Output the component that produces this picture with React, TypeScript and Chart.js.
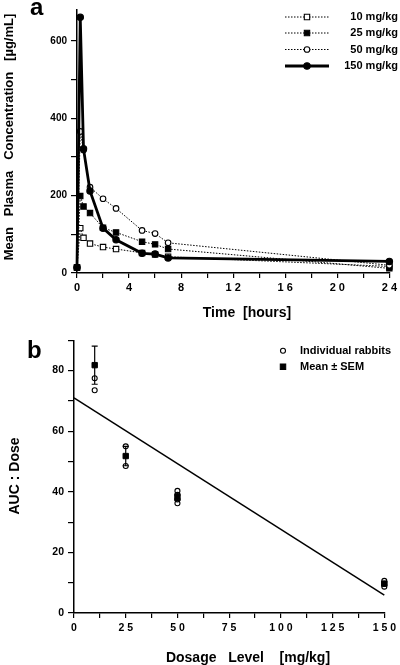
import { useEffect, useRef } from "react";
import { Chart, registerables } from "chart.js";

Chart.register(...registerables);

// ---------- Panel a data ----------
const timeHours = [0, 0.25, 0.5, 1, 2, 3, 5, 6, 7, 24];
const conc10 = [14, 116, 91, 76, 67, 62, 52, 48, 42, 17];
const conc25 = [14, 199, 172, 155, 117, 105, 81, 74, 62, 12];
const conc50 = [14, 366, 318, 222, 192, 167, 110, 102, 78, 20];
const conc150 = [14, 661, 321, 212, 116, 86, 51, 49, 39, 30];
const doseLabelsA = ["10 mg/kg", "25 mg/kg", "50 mg/kg", "150 mg/kg"];
const timeTickValues = [0, 4, 8, 12, 16, 20, 24];
const timeTickLabels = ["0", "4", "8", "1 2", "1 6", "2 0", "2 4"];
const concTickValues = [0, 200, 400, 600];
const concTickLabels = ["0", "200", "400", "600"];

// ---------- Panel b data ----------
const doseIndividual = [10, 10, 25, 25, 50, 50, 50, 50, 150, 150, 150];
const aucIndividual = [77.5, 73.5, 55, 48.5, 40.3, 39, 37.5, 36.2, 10.6, 9.6, 8.7];
const doseMean = [10, 25, 50, 150];
const aucMean = [81.8, 51.8, 38.2, 9.7];
const aucSem = [6.3, 3.2, 1.0, 0.5];
const fitDose = [0, 150];
const fitAuc = [71, 5.9];
const doseTickValues = [0, 25, 50, 75, 100, 125, 150];
const doseTickLabels = ["0", "2 5", "5 0", "7 5", "1 0 0", "1 2 5", "1 5 0"];
const aucTickValues = [0, 20, 40, 60, 80];
const aucTickLabels = ["0", "20", "40", "60", "80"];
const legendLabelsB = ["Individual rabbits", "Mean \u00b1 SEM"];

const FAMILY = "'Liberation Sans', Arial, Helvetica, sans-serif";
const font = (size: number) => `bold ${size}px ${FAMILY}`;

const dotted = [1.5, 1.5];

const seriesStyles = [
  { style: "rect", fill: "#fff", radius: 3.8, width: 1, dash: dotted },
  { style: "rect", fill: "#000", radius: 3.8, width: 1, dash: dotted },
  { style: "circle", fill: "#fff", radius: 2.8, width: 1, dash: dotted },
  { style: "circle", fill: "#000", radius: 3.2, width: 2.8, dash: [] as number[] },
];

const axisCommon = (tickLength: number) => ({
  grid: {
    drawOnChartArea: false,
    drawTicks: true,
    tickLength,
    color: "#000",
    lineWidth: 1.2,
  },
  border: { color: "#000", width: 1.5 },
});

function drawMarker(ctx: CanvasRenderingContext2D, style: string, x: number, y: number, r: number, fill: string) {
  ctx.save();
  ctx.setLineDash([]);
  ctx.lineWidth = 1.1;
  ctx.strokeStyle = "#000";
  ctx.fillStyle = fill;
  ctx.beginPath();
  if (style === "rect") {
    const s = r * Math.SQRT1_2;
    ctx.rect(x - s, y - s, 2 * s, 2 * s);
  } else {
    ctx.arc(x, y, r, 0, Math.PI * 2);
  }
  ctx.fill();
  ctx.stroke();
  ctx.restore();
}

const panelAPlugin = {
  id: "panelA",
  afterDraw(chart: any) {
    const ctx: CanvasRenderingContext2D = chart.ctx;
    ctx.save();
    ctx.fillStyle = "#000";
    ctx.textAlign = "left";
    ctx.textBaseline = "alphabetic";
    ctx.font = font(24);
    ctx.fillText("a", 30, 15);

    ctx.font = font(14);
    ctx.textAlign = "center";
    ctx.fillText("Time  [hours]", 247, 317);

    ctx.save();
    ctx.translate(12.5, 137);
    ctx.rotate(-Math.PI / 2);
    ctx.font = font(13);
    ctx.textAlign = "center";
    ctx.fillText("Mean   Plasma   Concentration   [\u00b5g/mL]", 0, 0);
    ctx.restore();

    // legend
    const rows = [17, 33, 49.5, 66];
    doseLabelsA.forEach((label, i) => {
      const st = seriesStyles[i];
      const y = rows[i];
      ctx.save();
      ctx.strokeStyle = "#000";
      ctx.lineWidth = st.width;
      ctx.setLineDash(st.dash);
      ctx.beginPath();
      ctx.moveTo(285, y);
      ctx.lineTo(329, y);
      ctx.stroke();
      ctx.restore();
      drawMarker(ctx, st.style, 307, y, st.radius, st.fill);
      ctx.font = font(11);
      ctx.textAlign = "right";
      ctx.textBaseline = "middle";
      ctx.fillStyle = "#000";
      ctx.fillText(label, 398, y);
    });
    ctx.restore();
  },
};

const errorBarPlugin = {
  id: "panelB",
  afterDatasetsDraw(chart: any) {
    const ctx: CanvasRenderingContext2D = chart.ctx;
    const xs = chart.scales.x;
    const ys = chart.scales.y;
    ctx.save();
    ctx.strokeStyle = "#000";
    ctx.lineWidth = 1.2;
    doseMean.forEach((d, i) => {
      const x = xs.getPixelForValue(d);
      const yTop = ys.getPixelForValue(aucMean[i] + aucSem[i]);
      const yBot = ys.getPixelForValue(aucMean[i] - aucSem[i]);
      ctx.beginPath();
      ctx.moveTo(x, yTop);
      ctx.lineTo(x, yBot);
      ctx.moveTo(x - 3, yTop);
      ctx.lineTo(x + 3, yTop);
      ctx.moveTo(x - 3, yBot);
      ctx.lineTo(x + 3, yBot);
      ctx.stroke();
    });
    ctx.restore();
  },
  afterDraw(chart: any) {
    const ctx: CanvasRenderingContext2D = chart.ctx;
    ctx.save();
    ctx.fillStyle = "#000";
    ctx.textAlign = "left";
    ctx.textBaseline = "alphabetic";
    ctx.font = font(24);
    ctx.fillText("b", 27, 28);

    ctx.font = font(14);
    ctx.textAlign = "center";
    ctx.fillText("Dosage   Level    [mg/kg]", 248, 331.5);

    ctx.save();
    ctx.translate(19, 146);
    ctx.rotate(-Math.PI / 2);
    ctx.font = font(14);
    ctx.textAlign = "center";
    ctx.fillText("AUC : Dose", 0, 0);
    ctx.restore();

    // legend
    drawMarker(ctx, "circle", 283, 20.7, 2.5, "#fff");
    drawMarker(ctx, "rect", 283, 36.7, 3.8, "#000");
    ctx.font = font(11);
    ctx.textAlign = "left";
    ctx.textBaseline = "middle";
    ctx.fillStyle = "#000";
    ctx.fillText(legendLabelsB[0], 300, 20.7);
    ctx.fillText(legendLabelsB[1], 300, 36.7);
    ctx.restore();
  },
};

export default function App() {
  const refA = useRef<HTMLCanvasElement>(null);
  const refB = useRef<HTMLCanvasElement>(null);

  useEffect(() => {
    const seriesA = [conc10, conc25, conc50, conc150];
    const chartA = new Chart(refA.current!, {
      type: "line",
      data: {
        datasets: seriesA.map((vals, i) => ({
          label: doseLabelsA[i],
          data: timeHours.map((t, j) => ({ x: t, y: vals[j] })),
          borderColor: "#000",
          borderWidth: seriesStyles[i].width,
          borderDash: seriesStyles[i].dash,
          pointStyle: seriesStyles[i].style as any,
          pointRadius: seriesStyles[i].radius,
          pointBackgroundColor: seriesStyles[i].fill,
          pointBorderColor: "#000",
          pointBorderWidth: 1.1,
          tension: 0,
          fill: false,
          clip: false as any,
          order: 4 - i,
        })),
      },
      options: {
        responsive: false,
        animation: false,
        devicePixelRatio: 1,
        events: [],
        layout: { padding: { top: 1, right: 9, left: 0, bottom: 0 } },
        plugins: { legend: { display: false }, tooltip: { enabled: false } },
        scales: {
          x: {
            type: "linear",
            min: 0,
            max: 24,
            ...axisCommon(5),
            ticks: {
              stepSize: 2,
              autoSkip: false,
              maxRotation: 0,
              padding: 3,
              color: "#000",
              font: { family: FAMILY, size: 11, weight: "bold" },
              callback: (v: any) => {
                const k = timeTickValues.indexOf(Number(v));
                return k >= 0 ? timeTickLabels[k] : "";
              },
            },
            afterFit: (s: any) => {
              s.height = 57;
            },
          },
          y: {
            type: "linear",
            min: 0,
            max: 680,
            ...axisCommon(6),
            ticks: {
              stepSize: 100,
              autoSkip: false,
              padding: 4,
              color: "#000",
              font: { family: FAMILY, size: 10, weight: "bold" },
              callback: (v: any) => {
                const k = concTickValues.indexOf(Number(v));
                return k >= 0 ? concTickLabels[k] : "";
              },
            },
            afterBuildTicks: (s: any) => {
              s.ticks = s.ticks.filter((t: any) => t.value % 100 === 0);
            },
            afterFit: (s: any) => {
              s.width = 77;
            },
          },
        },
      } as any,
      plugins: [panelAPlugin],
    });

    const chartB = new Chart(refB.current!, {
      type: "scatter",
      data: {
        datasets: [
          {
            label: legendLabelsB[1],
            data: doseMean.map((d, i) => ({ x: d, y: aucMean[i] })),
            pointStyle: "rect",
            pointRadius: 3.8,
            pointBackgroundColor: "#000",
            pointBorderColor: "#000",
            pointBorderWidth: 1,
            clip: false as any,
            order: 0,
          },
          {
            label: legendLabelsB[0],
            data: doseIndividual.map((d, i) => ({ x: d, y: aucIndividual[i] })),
            pointStyle: "circle",
            pointRadius: 2.5,
            pointBackgroundColor: "rgba(255,255,255,0)",
            pointBorderColor: "#000",
            pointBorderWidth: 1.1,
            clip: false as any,
            order: 1,
          },
          {
            label: "fit",
            data: fitDose.map((d, i) => ({ x: d, y: fitAuc[i] })),
            showLine: true,
            borderColor: "#000",
            borderWidth: 1.5,
            pointRadius: 0,
            tension: 0,
            clip: false as any,
            order: 2,
          },
        ],
      },
      options: {
        responsive: false,
        animation: false,
        devicePixelRatio: 1,
        events: [],
        layout: { padding: { top: 10, right: 12, left: 0, bottom: 0 } },
        plugins: { legend: { display: false }, tooltip: { enabled: false } },
        scales: {
          x: {
            type: "linear",
            min: 0,
            max: 150,
            ...axisCommon(5),
            ticks: {
              stepSize: 12.5,
              autoSkip: false,
              maxRotation: 0,
              padding: 4,
              color: "#000",
              font: { family: FAMILY, size: 10.5, weight: "bold" },
              callback: (v: any) => {
                const k = doseTickValues.indexOf(Number(v));
                return k >= 0 ? doseTickLabels[k] : "";
              },
            },
            afterFit: (s: any) => {
              s.height = 52;
            },
          },
          y: {
            type: "linear",
            min: 0,
            max: 90,
            ...axisCommon(6),
            ticks: {
              stepSize: 10,
              autoSkip: false,
              padding: 4,
              color: "#000",
              font: { family: FAMILY, size: 10.5, weight: "bold" },
              callback: (v: any) => {
                const k = aucTickValues.indexOf(Number(v));
                return k >= 0 ? aucTickLabels[k] : "";
              },
            },
            afterFit: (s: any) => {
              s.width = 74;
            },
          },
        },
      } as any,
      plugins: [errorBarPlugin],
    });

    return () => {
      chartA.destroy();
      chartB.destroy();
    };
  }, []);

  return (
    <div style={{ position: "fixed", left: 0, top: 0, width: 400, height: 665, background: "#fff" }}>
      <canvas ref={refA} width={400} height={330} style={{ position: "absolute", left: 0, top: 0 }} />
      <canvas ref={refB} width={400} height={335} style={{ position: "absolute", left: 0, top: 330 }} />
    </div>
  );
}
